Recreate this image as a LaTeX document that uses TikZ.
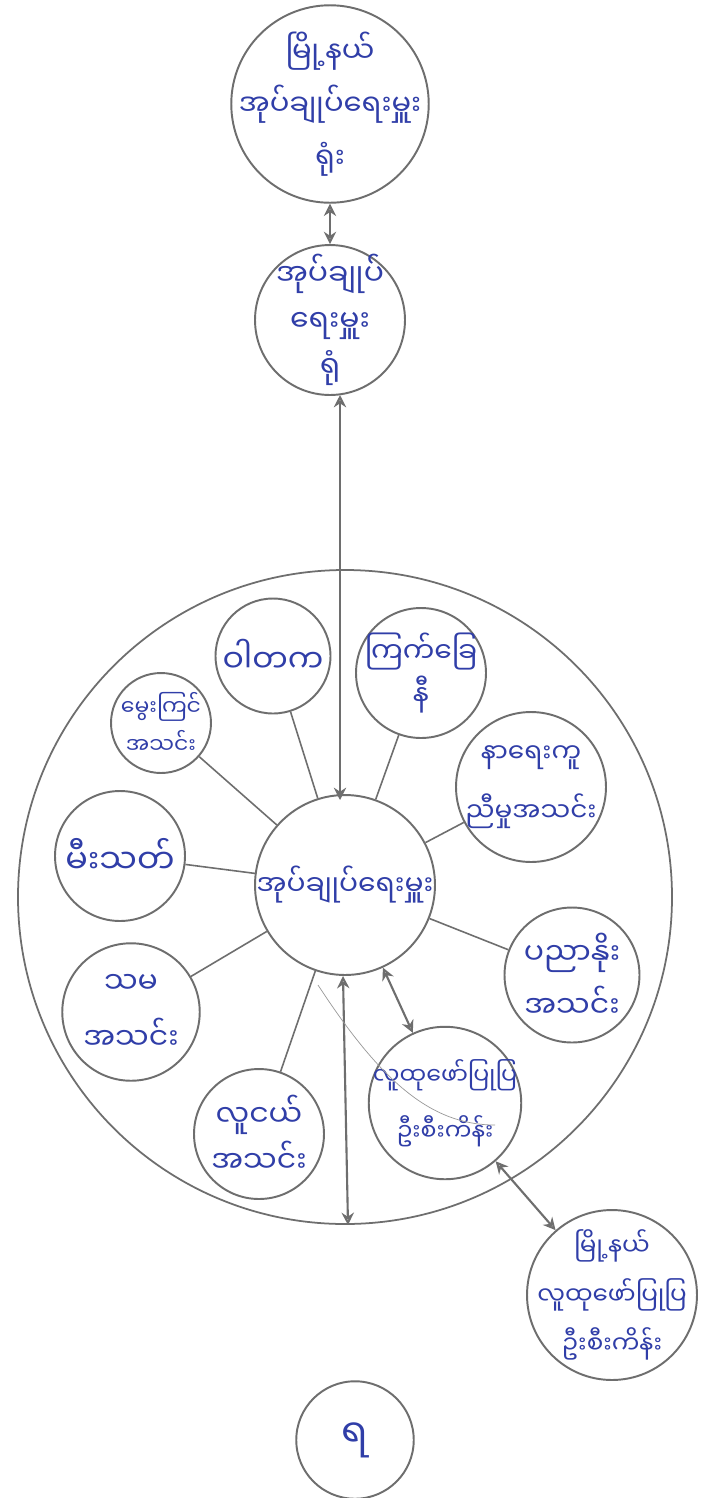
\documentclass[tikz,border=0pt]{standalone}
\usepackage{fontspec}
\newfontfamily\mya[Script=Myanmar]{Noto Sans Myanmar UI}
\usetikzlibrary{arrows.meta}
\definecolor{ink}{RGB}{48,62,168}
\definecolor{pen}{RGB}{110,110,110}
\tikzset{
  bub/.style={circle,draw=pen,line width=1.1pt,inner sep=0pt},
  txt/.style={text=ink,align=center,inner sep=0pt,font=\mya\fontsize{17}{30}\selectfont},
  link/.style={draw=pen,line width=0.9pt},
  dbl/.style={draw=pen,line width=1.2pt,{Stealth[length=7pt,width=7pt,open]}-{Stealth[length=7pt,width=7pt,open]}},
}
\begin{document}
\begin{tikzpicture}[x=0.02cm,y=-0.02cm]
\useasboundingbox[fill=white] (0,0) rectangle (714,1498);
% big circle
\draw[draw=pen,line width=1pt] (345,897) circle [radius=327];
% main nodes
\node[bub,minimum size=3.95cm] (top) at (330,104) {};
\node[txt,font=\mya\fontsize{16.5}{30}\selectfont] (ttop) at (top.center) {မြို့နယ်\\အုပ်ချုပ်ရေးမှူး\\ရုံး};
\node[bub,minimum size=3cm] (ofc) at (330,320) {};
\node[txt,font=\mya\fontsize{17}{26}\selectfont] (tofc) at (ofc.center) {အုပ်ချုပ်\\ရေးမှူး\\ရုံ};
\node[bub,minimum size=3.6cm] (cen) at (345,885) {};
\node[txt,font=\mya\fontsize{16}{26}\selectfont] (tcen) at (cen.center) {အုပ်ချုပ်ရေးမှူး};
\node[bub,minimum size=2.35cm] (bot) at (355,1440) {};
\node[txt,font=\mya\fontsize{22}{26}\selectfont] (tbot) at (bot.center) {ရ};
% satellites
\node[bub,minimum size=2.3cm] (s1) at (273,656) {};
\node[txt,font=\mya\fontsize{18}{26}\selectfont] (t1) at (s1.center) {ဝါတက};
\node[bub,minimum size=2.6cm] (s2) at (421,673) {};
\node[txt,font=\mya\fontsize{16}{24}\selectfont] (t2) at (s2.center) {ကြက်ခြေ\\နီ};
\node[bub,minimum size=2cm] (s3) at (161,723) {};
\node[txt,font=\mya\fontsize{12.5}{22}\selectfont] (t3) at (s3.center) {မွေးကြင်\\အသင်း};
\node[bub,minimum size=3cm] (s4) at (531,787) {};
\node[txt,font=\mya\fontsize{15}{34}\selectfont] (t4) at (s4.center) {နာရေးကူ\\ညီမှုအသင်း};
\node[bub,minimum size=2.6cm] (s5) at (120,856) {};
\node[txt,font=\mya\fontsize{19}{26}\selectfont] (t5) at (s5.center) {မီးသတ်};
\node[bub,minimum size=2.7cm] (s6) at (572,975) {};
\node[txt] (t6) at (s6.center) {ပညာနိုး\\အသင်း};
\node[bub,minimum size=2.75cm] (s7) at (131,1012) {};
\node[txt,font=\mya\fontsize{17}{32}\selectfont] (t7) at (s7.center) {သမ\\အသင်း};
\node[bub,minimum size=2.6cm] (s8) at (259,1134) {};
\node[txt,font=\mya\fontsize{17}{26}\selectfont] (t8) at (s8.center) {လူငယ်\\အသင်း};
\node[bub,minimum size=3.05cm] (s9) at (445,1103) {};
\node[txt,font=\mya\fontsize{13.5}{32}\selectfont] (t9) at (s9.center) {လူထုဖော်ပြုပြ\\ဦးစီးကိန်း};
\node[bub,minimum size=3.4cm] (lr) at (612,1295) {};
\node[txt,font=\mya\fontsize{14}{28}\selectfont] (tlr) at (lr.center) {မြို့နယ်\\လူထုဖော်ပြုပြ\\ဦးစီးကိန်း};
% connectors
\draw[link] (s1) -- (cen);
\draw[link] (s2) -- (cen);
\draw[link] (s3) -- (cen);
\draw[link] (s4) -- (cen);
\draw[link] (s5) -- (cen);
\draw[link] (s6) -- (cen);
\draw[link] (s7) -- (cen);
\draw[link] (s8) -- (cen);
\draw[dbl] (top) -- (ofc);
\coordinate (a1) at (340,395);
\coordinate (a2) at (340,800);
\draw[dbl] (a1) -- (a2);
\coordinate (a3) at (343,976);
\coordinate (bend) at (348,1225);
\draw[dbl] (a3) -- (bend);
\draw[dbl] (cen) -- (s9);
\draw[dbl] (s9) -- (lr);
\coordinate (c1) at (318,985);
\coordinate (c2) at (495,1125);
\draw[draw=pen!70,line width=0.4pt] (c1) .. controls (380,1080) and (430,1125) .. (c2);
\end{tikzpicture}
\end{document}
